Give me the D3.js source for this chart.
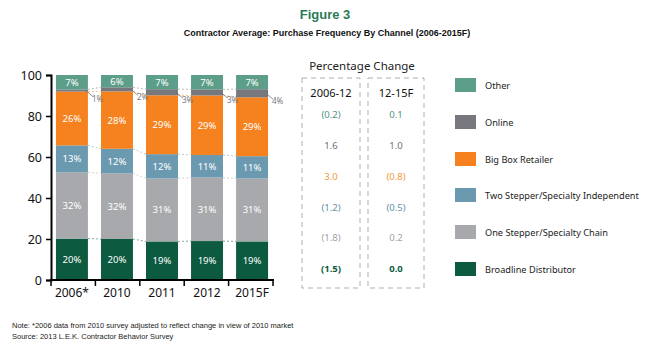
<!DOCTYPE html>
<html><head><meta charset="utf-8">
<script src="https://cdn.jsdelivr.net/npm/d3@7"></script>
<style>
body{margin:0;background:#fff;}
svg{display:block;}
</style></head>
<body>
<svg id="chart" width="650" height="356"></svg>
<script>
const years = ["2006*", "2010", "2011", "2012", "2015F"];
const seriesNames = ["Broadline Distributor", "One Stepper/Specialty Chain", "Two Stepper/Specialty Independent", "Big Box Retailer", "Online", "Other"];
const broadline = [20, 20, 19, 19, 19];
const oneStepper = [32, 32, 31, 31, 31];
const twoStepper = [13, 12, 12, 11, 11];
const bigBox = [26, 28, 29, 29, 29];
const online = [1, 2, 3, 3, 4];
const other = [7, 6, 7, 7, 7];
const colors = ["#0c5a40", "#a8a9ac", "#6b9ab0", "#f5821f", "#77787d", "#5c9e89"];
const yTicks = [0, 20, 40, 60, 80, 100];
const changeHeaders = ["2006-12", "12-15F"];
// rows top to bottom: Other, Online, Big Box, Two Stepper, One Stepper, Broadline
const change0612 = ["(0.2)", "1.6", "3.0", "(1.2)", "(1.8)", "(1.5)"];
const change1215 = ["0.1", "1.0", "(0.8)", "(0.5)", "0.2", "0.0"];
const changeColors = ["#4f9580", "#707073", "#ee9a3a", "#5f90a8", "#a0a1a4", "#0c5a40"];

const svg = d3.select("#chart");
const allSeries = [broadline, oneStepper, twoStepper, bigBox, online, other];
const table = years.map((y, i) => {
  const o = {year: y};
  seriesNames.forEach((s, k) => o[s] = allSeries[k][i]);
  return o;
});
const stack = d3.stack().keys(seriesNames).offset(d3.stackOffsetExpand);
const layers = stack(table);

const x = d3.scaleBand().domain(years).range([51, 273]).paddingInner(0.29).paddingOuter(0.11);
const y = d3.scaleLinear().domain([0, 1]).range([280, 75]);

// Titles
svg.append("text").attr("x", 325).attr("y", 19).attr("text-anchor", "middle")
  .attr("font-family", "Liberation Sans, Arial").attr("font-weight", "bold").attr("font-size", 13)
  .attr("fill", "#2b7a57").text("Figure 3");
svg.append("text").attr("x", 327).attr("y", 36).attr("text-anchor", "middle")
  .attr("font-family", "Liberation Sans, Arial").attr("font-weight", "bold").attr("font-size", 9)
  .attr("fill", "#111").text("Contractor Average: Purchase Frequency By Channel (2006-2015F)");

// connector dashed lines
const light = c => d3.interpolateRgb(c, "#ffffff")(0.35);
layers.forEach((layer, k) => {
  if (k === layers.length - 1) return;
  for (let i = 0; i < years.length - 1; i++) {
    svg.append("line")
      .attr("x1", x(years[i]) + x.bandwidth()).attr("y1", y(layer[i][1]))
      .attr("x2", x(years[i + 1])).attr("y2", y(layer[i + 1][1]))
      .attr("stroke", light(colors[k])).attr("stroke-width", 0.8).attr("stroke-dasharray", "2,2");
  }
});

// bars
const g = svg.append("g");
layers.forEach((layer, k) => {
  g.selectAll(null).data(layer).enter().append("rect")
    .attr("x", (d, i) => x(years[i])).attr("width", x.bandwidth())
    .attr("y", d => y(d[1])).attr("height", d => y(d[0]) - y(d[1]))
    .attr("fill", colors[k]);
  if (seriesNames[k] !== "Online") {
    g.selectAll(null).data(layer).enter().append("text")
      .attr("x", (d, i) => x(years[i]) + x.bandwidth() / 2)
      .attr("y", d => (y(d[0]) + y(d[1])) / 2 + 3.5)
      .attr("text-anchor", "middle").attr("font-family", "Noto Sans").attr("font-size", 9.5)
      .attr("fill", "#fff").text((d, i) => allSeries[k][i] + "%");
  } else {
    layer.forEach((d, i) => {
      const xr = x(years[i]) + x.bandwidth();
      const ym = (y(d[0]) + y(d[1])) / 2;
      svg.append("line").attr("x1", xr - 2).attr("y1", ym).attr("x2", xr + 5).attr("y2", ym + 6)
        .attr("stroke", "#77787d").attr("stroke-width", 0.8);
      svg.append("path").attr("d", `M${xr - 3},${ym - 1} l3,0.5 l-1.5,2.5 z`).attr("fill", "#77787d");
      svg.append("text").attr("x", xr + 4).attr("y", ym + 11)
        .attr("font-family", "Noto Sans").attr("font-size", 8).attr("fill", "#77787d")
        .text(online[i] + "%");
    });
  }
});

// Y axis
const yAxisG = svg.append("g").attr("transform", "translate(51,0)")
  .call(d3.axisLeft(d3.scaleLinear().domain([0, 100]).range([280, 75])).tickValues(yTicks).tickSize(5).tickPadding(4));
yAxisG.select(".domain").attr("stroke", "#000").attr("stroke-width", 2);
yAxisG.selectAll(".tick line").attr("stroke", "#000").attr("stroke-width", 1.5);
yAxisG.selectAll(".tick text").attr("font-family", "Noto Sans").attr("font-size", 12.5).attr("fill", "#111");

// X axis
svg.append("line").attr("x1", 50).attr("x2", 274).attr("y1", 280).attr("y2", 280)
  .attr("stroke", "#000").attr("stroke-width", 2);
const bx = d3.range(years.length + 1).map(i => 51 + i * (273 - 51) / years.length);
svg.selectAll(null).data(bx).enter().append("line")
  .attr("x1", d => d).attr("x2", d => d).attr("y1", 280).attr("y2", 286)
  .attr("stroke", "#000").attr("stroke-width", 1.5);
svg.selectAll(null).data(years).enter().append("text")
  .attr("x", d => x(d) + x.bandwidth() / 2).attr("y", 297).attr("text-anchor", "middle")
  .attr("font-family", "Noto Sans").attr("font-size", 12).attr("fill", "#111").text(d => d);

// Percentage change panel
svg.append("text").attr("x", 362).attr("y", 70).attr("text-anchor", "middle")
  .attr("font-family", "Noto Sans").attr("font-size", 11.5).attr("fill", "#222").text("Percentage Change");
const boxes = [[302, 360], [368, 424]];
boxes.forEach(b => {
  svg.append("rect").attr("x", b[0]).attr("y", 78).attr("width", b[1] - b[0]).attr("height", 210)
    .attr("fill", "none").attr("stroke", "#999").attr("stroke-width", 0.8).attr("stroke-dasharray", "5,4");
});
const rowY = [114, 145, 176, 207, 237, 268];
changeHeaders.forEach((h, j) => {
  const cx = (boxes[j][0] + boxes[j][1]) / 2;
  svg.append("text").attr("x", cx).attr("y", 97).attr("text-anchor", "middle")
    .attr("font-family", "Noto Sans").attr("font-size", 11).attr("fill", "#111").text(h);
  const vals = j === 0 ? change0612 : change1215;
  vals.forEach((v, r) => {
    svg.append("text").attr("x", cx).attr("y", rowY[r] + 3.5).attr("text-anchor", "middle")
      .attr("font-family", "Noto Sans").attr("font-size", 9.5)
      .attr("font-weight", r === 5 ? "bold" : "normal")
      .attr("fill", changeColors[r]).text(v);
  });
});

// Legend (top to bottom: Other ... Broadline)
const legendOrder = seriesNames.slice().reverse();
const legendColors = colors.slice().reverse();
const legY = [85, 122, 159, 195, 232, 269];
legendOrder.forEach((name, i) => {
  svg.append("rect").attr("x", 455).attr("y", legY[i] - 7).attr("width", 21).attr("height", 14)
    .attr("fill", legendColors[i]);
  svg.append("text").attr("x", 485).attr("y", legY[i] + 3.5)
    .attr("font-family", "Noto Sans").attr("font-size", 9.2).attr("fill", "#222").text(name);
});

// Notes
svg.append("text").attr("x", 12).attr("y", 328).attr("font-family", "Liberation Sans, Arial")
  .attr("font-size", 7.5).attr("fill", "#222").text("Note: *2006 data from 2010 survey adjusted to reflect change in view of 2010 market");
svg.append("text").attr("x", 12).attr("y", 339).attr("font-family", "Liberation Sans, Arial")
  .attr("font-size", 7.5).attr("fill", "#222").text("Source: 2013 L.E.K. Contractor Behavior Survey");
</script>
</body></html>
